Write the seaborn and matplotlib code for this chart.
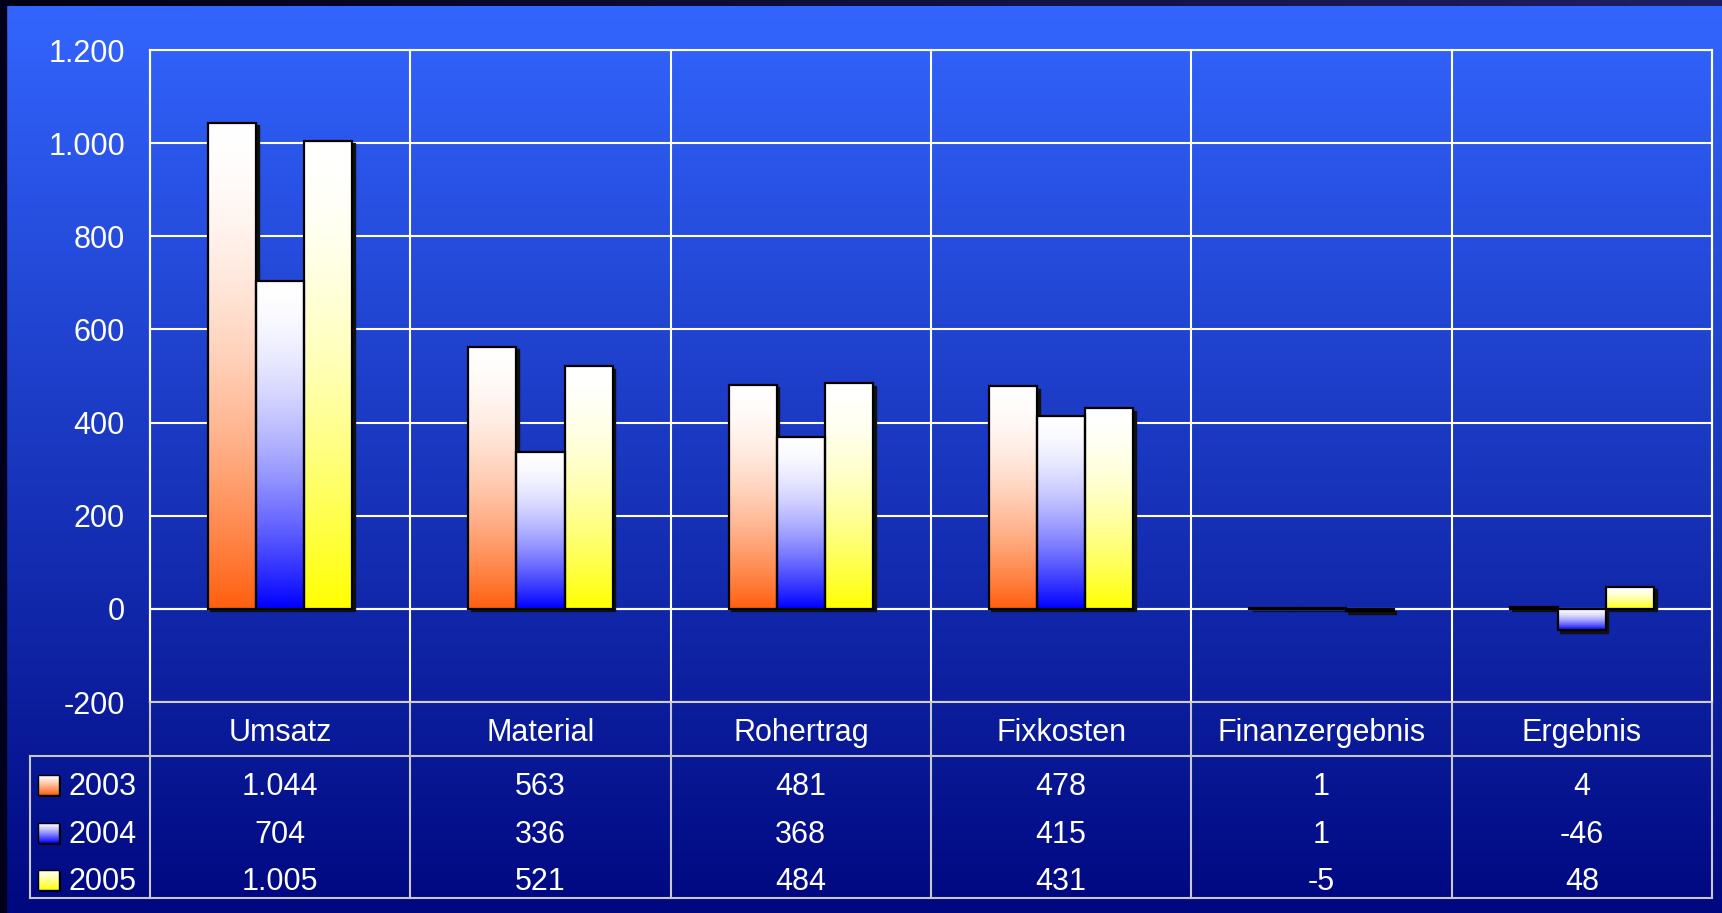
import matplotlib
matplotlib.use("Agg")
import matplotlib.pyplot as plt
import matplotlib.transforms as mtransforms
from matplotlib.patches import Rectangle
import numpy as np
import pandas as pd
import seaborn as sns

categories = ["Umsatz", "Material", "Rohertrag", "Fixkosten", "Finanzergebnis", "Ergebnis"]
years = ["2003", "2004", "2005"]
values_2003 = [1044, 563, 481, 478, 1, 4]
values_2004 = [704, 336, 368, 415, 1, -46]
values_2005 = [1005, 521, 484, 431, -5, 48]
year_colors = ["#FF5F0F", "#0000FF", "#FFFF00"]
yticks = [-200, 0, 200, 400, 600, 800, 1000, 1200]


def fmt(v):
    return f"{v:,}".replace(",", ".")


def gradient(base, n=256, power=1.7):
    # bottom = base colour, top = white
    t = np.linspace(0, 1, n)[:, None]
    frac = (1 - t) ** power
    base = np.array(matplotlib.colors.to_rgb(base))
    return (np.ones(3) * (1 - frac) + base * frac)[:, None, :]


W, H = 1722, 913
fig = plt.figure(figsize=(W / 100, H / 100), dpi=100)

# background gradient
bg = fig.add_axes([0, 0, 1, 1], zorder=-10)
g = np.linspace(0, 1, 256)[:, None, None]
top_c = np.array([51, 102, 255]) / 255
bot_c = np.array([0, 8, 128]) / 255
bg.imshow(top_c * (1 - g) + bot_c * g, aspect="auto", extent=[0, 1, 0, 1], origin="upper")
bg.add_patch(Rectangle((0, 0), 6 / W, 1, color="#00001a"))
strip = np.linspace(0, 1, 256)[None, :, None]
bg.imshow(np.array([0, 0, 0.08]) * (1 - strip) + np.array([0.12, 0.12, 0.4]) * strip,
          aspect="auto", extent=[0, 1, 1 - 6 / H, 1], origin="upper")
bg.set_xlim(0, 1)
bg.set_ylim(0, 1)
bg.axis("off")

plt.rcParams["font.family"] = ["Liberation Sans", "DejaVu Sans"]

ax = fig.add_axes([150 / W, 1 - 702 / H, (1712 - 150) / W, (702 - 50) / H])
ax.patch.set_alpha(0)

df = pd.DataFrame({
    "Kategorie": categories * 3,
    "Jahr": np.repeat(years, len(categories)),
    "Wert": values_2003 + values_2004 + values_2005,
})
sns.barplot(data=df, x="Kategorie", y="Wert", hue="Jahr", palette=year_colors,
            saturation=1, width=0.555, gap=0, ax=ax, legend=False, edgecolor="black",
            linewidth=1.6, zorder=4, errorbar=None)

shadow_tr = mtransforms.offset_copy(ax.transData, fig=fig, x=2.5, y=-2.5, units="dots")
for bar in list(ax.patches):
    x0, w = bar.get_x(), bar.get_width()
    y0, h = bar.get_y(), bar.get_height()
    ylo, yhi = min(y0, y0 + h), max(y0, y0 + h)
    base = bar.get_facecolor()[:3]
    ax.add_patch(Rectangle((x0, ylo), w, yhi - ylo, transform=shadow_tr,
                           facecolor="#101010", edgecolor="#101010", lw=1, zorder=3))
    im = ax.imshow(gradient(base), extent=[x0, x0 + w, ylo, yhi], origin="lower",
                   aspect="auto", zorder=3.5, interpolation="bilinear")
    im.set_clip_path(bar)
    bar.set_facecolor("none")

ax.set_xlim(-0.5, len(categories) - 0.5)
ax.set_ylim(yticks[0], yticks[-1])
ax.set_yticks(yticks)
ax.set_yticklabels([fmt(v) for v in yticks])
ax.tick_params(axis="y", length=0, pad=18, labelsize=22, labelcolor="white")
ax.set_xticks([])
ax.set_xlabel("")
ax.set_ylabel("")
ax.yaxis.grid(True, color="white", lw=1.5, zorder=1)
ax.set_axisbelow(True)
for s in ax.spines.values():
    s.set_color("white")
    s.set_linewidth(1.5)
ax.spines["bottom"].set_color("#d0d0d0")
ax.axhline(0, color="white", lw=1.5, zorder=2)

# data table under the plot
line_c = "#c8c8c8"
blend = mtransforms.blended_transform_factory(ax.transData, ax.transAxes)
header_bottom = -54 / 652
table_bottom = -196 / 652
legend_left = -120 / 1562
row_h = (header_bottom - table_bottom) / 3

for xb in np.arange(-0.5, len(categories), 1.0):
    ax.plot([xb, xb], [1, 0], transform=blend, color="white", lw=1.5, clip_on=False, zorder=2)
    ax.plot([xb, xb], [0, table_bottom], transform=blend, color=line_c, lw=1.5,
            clip_on=False, zorder=2)
ax.plot([legend_left, 1], [header_bottom, header_bottom], transform=ax.transAxes,
        color=line_c, lw=1.5, clip_on=False)
ax.plot([legend_left, 1], [table_bottom, table_bottom], transform=ax.transAxes,
        color=line_c, lw=1.5, clip_on=False)
ax.plot([legend_left, legend_left], [header_bottom, table_bottom], transform=ax.transAxes,
        color=line_c, lw=1.5, clip_on=False)

for i, cat in enumerate(categories):
    ax.text(i, -39 / 652, cat, transform=blend, ha="center", va="baseline",
            fontsize=22, color="white", clip_on=False)

series = [values_2003, values_2004, values_2005]
key_w = 21 / 1562
key_h = 20 / 652
for r, (year, vals, col) in enumerate(zip(years, series, year_colors)):
    baseline = header_bottom - row_h * r - row_h * 0.83
    for i, v in enumerate(vals):
        ax.text(i, baseline, fmt(v), transform=blend, ha="center", va="baseline",
                fontsize=22, color="white", clip_on=False)
    ax.text(-82 / 1562, baseline, year, transform=ax.transAxes, ha="left", va="baseline",
            fontsize=22, color="white", clip_on=False)
    kx = -112 / 1562
    ax.add_patch(Rectangle((kx, baseline), key_w, key_h,
                           transform=mtransforms.offset_copy(ax.transAxes, fig=fig, x=2, y=-2, units="dots"),
                           facecolor="black", clip_on=False, zorder=5))
    ax.imshow(gradient(col, power=1.2), extent=[kx, kx + key_w, baseline, baseline + key_h],
              origin="lower", aspect="auto", transform=ax.transAxes, clip_on=False, zorder=6)
    ax.add_patch(Rectangle((kx, baseline), key_w, key_h, transform=ax.transAxes,
                           facecolor="none", edgecolor="black", lw=1, clip_on=False, zorder=7))

ax.set_xlim(-0.5, len(categories) - 0.5)
ax.set_ylim(yticks[0], yticks[-1])

fig.savefig("out.png", dpi=100)
